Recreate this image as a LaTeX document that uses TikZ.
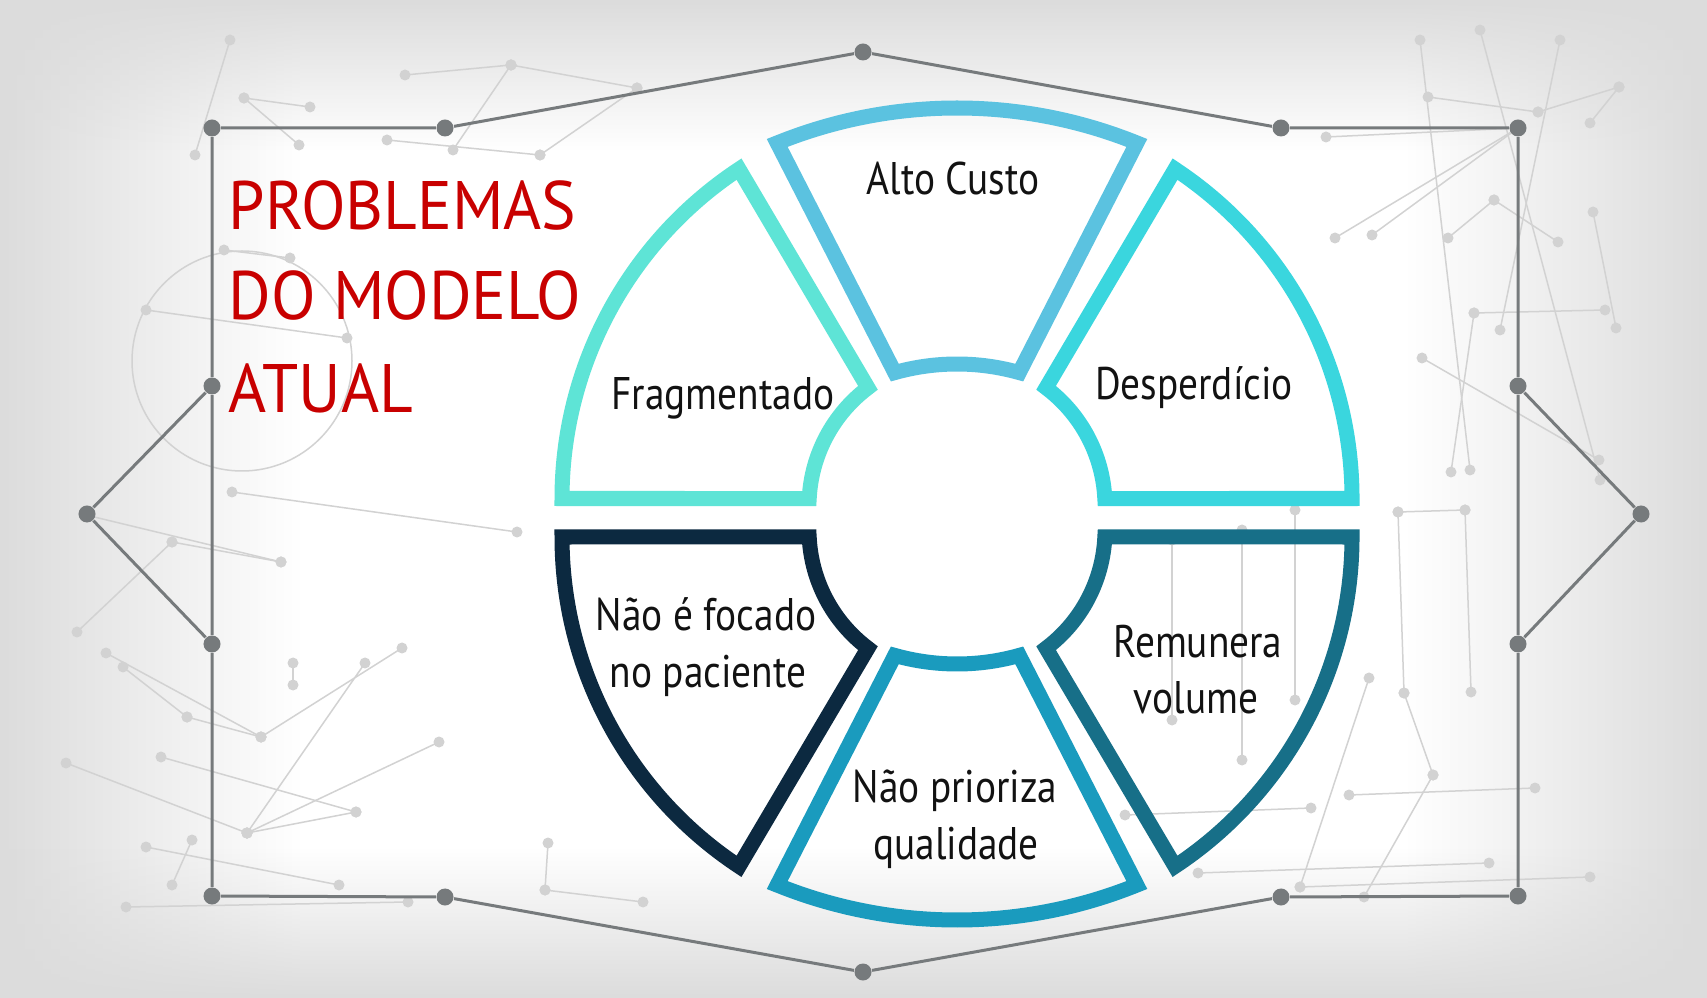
\documentclass[tikz,border=0pt]{standalone}
\usepackage{fontspec}
\setmainfont{PT Sans}
\newfontfamily\dosis[FakeStretch=0.86]{PT Sans}
\newfontfamily\dosistit[FakeStretch=0.95]{PT Sans}
\usetikzlibrary{fadings}
\definecolor{bggray}{RGB}{220,220,220}
\definecolor{netgray}{RGB}{210,210,210}
\definecolor{framegray}{RGB}{118,122,124}
\definecolor{titlered}{RGB}{200,0,0}
\definecolor{altoc}{RGB}{91,194,224}
\definecolor{fragm}{RGB}{94,228,214}
\definecolor{desp}{RGB}{58,214,222}
\definecolor{focado}{RGB}{12,41,64}
\definecolor{prior}{RGB}{26,155,190}
\definecolor{remun}{RGB}{23,111,136}
\tikzset{every node/.style={inner sep=0pt}}
\tikzset{dot/.style={circle,fill=framegray,minimum size=0.17cm}}
\tikzstyle{frame}=[draw=framegray,line width=0.03cm]
\tikzstyle{net}=[draw=netgray,line width=0.015cm]
\tikzstyle{seg}=[line width=0.15cm]
\tikzstyle{lbl}=[anchor=base,text=black!93,font=\dosis\fontsize{13}{16}\selectfont]
\tikzstyle{titulo}=[anchor=base west,text=titlered,font=\dosistit\fontsize{19.5}{26}\selectfont]

\begin{document}
\begin{tikzpicture}[x=0.01cm,y=-0.01cm]
\useasboundingbox (0,0) rectangle (1707,998);
\fill[white] (0,0) rectangle (1707,998);
\fill[bggray,path fading=east] (0,0) rectangle (300,998);
\fill[bggray,path fading=west] (1407,0) rectangle (1707,998);
\fill[bggray,path fading=south] (0,0) rectangle (1707,150);
\fill[bggray,path fading=north] (0,848) rectangle (1707,998);

\foreach \xa/\ya/\xb/\yb in {244/98/310/107, 405/75/511/65, 511/65/637/88, 387/140/540/155, 299/145/244/98,
    195/155/230/40, 146/310/347/338, 224/250/290/258, 232/492/517/532, 172/542/281/562, 77/632/172/542,
    86/515/281/562, 106/653/261/737, 123/667/187/717, 187/717/261/737, 161/757/356/812, 247/833/356/812,
    247/833/439/742, 146/847/339/885, 192/840/172/885, 126/907/408/902, 545/890/643/902, 548/843/545/890,
    293/663/293/685, 365/663/247/833, 402/648/261/737, 66/763/247/833, 637/88/540/155, 511/65/453/150,
    1428/97/1538/112, 1538/112/1619/87, 1326/137/1518/128, 1335/238/1518/128, 1372/235/1518/128,
    1448/238/1494/200, 1494/200/1558/242, 1474/313/1605/310, 1422/358/1599/460, 1451/472/1474/313,
    1593/212/1616/328, 1590/123/1619/87, 1420/40/1470/470, 1480/30/1600/480, 1560/40/1500/330,
    1398/512/1465/510, 1398/512/1404/693, 1465/510/1471/692, 1369/678/1300/887, 1404/693/1433/775,
    1349/795/1535/788, 1125/815/1311/808, 1198/873/1489/863, 1300/887/1590/877, 1172/540/1172/720,
    1242/530/1242/760, 1295/510/1295/700, 1433/775/1364/897}
{
  \draw[net] (\xa,\ya) -- (\xb,\yb);
  \fill[netgray] (\xa,\ya) circle[radius=5.5] (\xb,\yb) circle[radius=5.5];
}
\draw[net] (242,361) circle[radius=110];

\node[dot] (tl) at (212,128) {};
\node[dot] (t1) at (445,128) {};
\node[dot] (tc) at (863,52) {};
\node[dot] (t2) at (1281,128) {};
\node[dot] (tr) at (1518,128) {};
\node[dot] (r1) at (1518,386) {};
\node[dot] (rc) at (1641,514) {};
\node[dot] (r2) at (1518,644) {};
\node[dot] (br) at (1518,896) {};
\node[dot] (b2) at (1281,897) {};
\node[dot] (bc) at (863,972) {};
\node[dot] (b1) at (445,897) {};
\node[dot] (bl) at (212,896) {};
\node[dot] (l2) at (212,644) {};
\node[dot] (lc) at (87,514) {};
\node[dot] (l1) at (212,386) {};
\draw[frame] (tl) -- (t1) -- (tc) -- (t2) -- (tr) -- (r1) -- (r2) -- (br) -- (b2) -- (bc) -- (b1) -- (bl) -- (l2) -- (l1) -- (tl);
\draw[frame] (l1) -- (lc) -- (l2) (r1) -- (rc) -- (r2);

\coordinate (cu) at (957,506);
\coordinate (cuo) at (957,498.5);
\coordinate (cl) at (957,530);
\coordinate (clo) at (957,537);
\coordinate (ao) at (957,588);
\coordinate (ai) at (957,594);
\coordinate (po) at (957,440);
\coordinate (pi) at (957,434);

\draw[seg,altoc] (ao) ++(248:480) arc[start angle=248,end angle=292,radius=480]
  -- ([shift={(285.7:230)}]ai) arc[start angle=285.7,end angle=254.3,radius=230] -- cycle;
\draw[seg,fragm] (cuo) ++(180:395) arc[start angle=180,end angle=236.5,radius=395]
  -- ([shift={(233:148)}]cu) arc[start angle=233,end angle=182.9,radius=148] -- cycle;
\draw[seg,desp] (cuo) ++(360:395) arc[start angle=360,end angle=303.5,radius=395]
  -- ([shift={(307:148)}]cu) arc[start angle=307,end angle=357.1,radius=148] -- cycle;
\draw[seg,focado] (clo) ++(180:395) arc[start angle=180,end angle=123.5,radius=395]
  -- ([shift={(127:148)}]cl) arc[start angle=127,end angle=177.3,radius=148] -- cycle;
\draw[seg,prior] (po) ++(112:480) arc[start angle=112,end angle=68,radius=480]
  -- ([shift={(74.3:230)}]pi) arc[start angle=74.3,end angle=105.7,radius=230] -- cycle;
\draw[seg,remun] (clo) ++(0:395) arc[start angle=0,end angle=56.5,radius=395]
  -- ([shift={(53:148)}]cl) arc[start angle=53,end angle=2.7,radius=148] -- cycle;

\node[titulo] (prob) at (228,230) {PROBLEMAS};
\node[titulo] (mod) at (228,320) {DO MODELO};
\node[titulo] (atual) at (228,413) {ATUAL};

\node[lbl] (alto) at (953,195) {Alto Custo};
\node[lbl] (frag) at (723,410) {Fragmentado};
\node[lbl] (desperd) at (1194,400) {Desperdício};
\node[lbl] (foc1) at (706,630) {Não é focado};
\node[lbl] (foc2) at (708,687) {no paciente};
\node[lbl] (rem1) at (1198,657) {Remunera};
\node[lbl] (rem2) at (1196,713) {volume};
\node[lbl] (pri1) at (955,802) {Não prioriza};
\node[lbl] (pri2) at (956,859) {qualidade};
\end{tikzpicture}
\end{document}
